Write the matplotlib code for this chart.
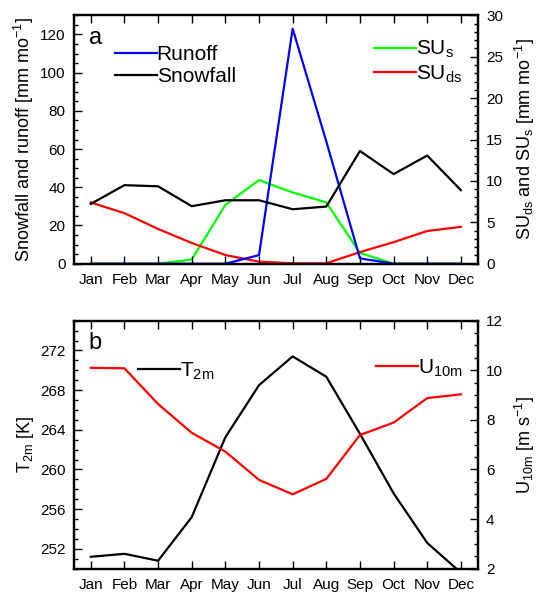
import matplotlib
matplotlib.use('Agg')
import matplotlib.pyplot as plt
from matplotlib.ticker import MultipleLocator

plt.rcParams['font.family'] = ['Liberation Sans', 'DejaVu Sans']
plt.rcParams['mathtext.default'] = 'regular'

# Monthly climatology
months = ['Jan', 'Feb', 'Mar', 'Apr', 'May', 'Jun',
          'Jul', 'Aug', 'Sep', 'Oct', 'Nov', 'Dec']
runoff = [0, 0, 0, 0, 0, 4.5, 123, 64, 2.8, 0, 0, 0]
snowfall = [31.3, 41.1, 40.5, 30.1, 33.2, 33.2, 28.5, 29.9, 59.0, 46.9, 56.6, 38.5]
su_s = [0, 0, 0, 0.5, 7.1, 10.1, 8.6, 7.4, 1.3, 0, 0, 0]
su_ds = [7.4, 6.1, 4.2, 2.5, 1.05, 0.25, 0.05, 0.05, 1.4, 2.6, 3.95, 4.45]
t2m = [251.2, 251.5, 250.8, 255.2, 263.25, 268.5, 271.4, 269.35, 263.6, 257.6, 252.6, 249.6]
u10m = [10.1, 10.08, 8.64, 7.48, 6.72, 5.58, 5.0, 5.62, 7.39, 7.89, 8.88, 9.03]

x = list(range(len(months)))
lw = 1.6
tick_fs = 11
label_fs = 13
leg_fs = 15


def style(ax, side):
    ax.tick_params(axis='both', which='both', direction='in', labelsize=tick_fs)
    ax.tick_params(axis='both', which='major', length=6, width=1)
    ax.tick_params(axis='both', which='minor', length=3, width=1)
    ax.tick_params(axis='y', which='both', left=(side == 'left'), right=(side == 'right'),
                   labelleft=(side == 'left'), labelright=(side == 'right'), pad=6)
    ax.tick_params(axis='x', which='both', top=True, bottom=True, pad=7)
    for s in ax.spines.values():
        s.set_linewidth(1.6)


fig = plt.figure(figsize=(5.38, 5.93), dpi=100)

# ---- panel a ----
ax1 = fig.add_axes([0.1375, 0.5553, 0.7504, 0.4189])
ax2 = ax1.twinx()
ax1.set_zorder(ax2.get_zorder() + 1)
ax1.patch.set_visible(False)

l_run, = ax1.plot(x, runoff, color='#0000ff', lw=lw, label='Runoff')
l_snow, = ax1.plot(x, snowfall, color='black', lw=lw, label='Snowfall')
l_sus, = ax2.plot(x, su_s, color='#00ff00', lw=lw, label='SU$_{s}$')
l_suds, = ax2.plot(x, su_ds, color='#ff0000', lw=lw, label='SU$_{ds}$')

ax1.set_xlim(-0.5, 11.5)
ax1.set_xticks(x, months)
ax1.set_ylim(0, 130)
ax1.yaxis.set_major_locator(MultipleLocator(20))
ax1.yaxis.set_minor_locator(MultipleLocator(5))
ax2.set_ylim(0, 30)
ax2.yaxis.set_major_locator(MultipleLocator(5))
ax2.yaxis.set_minor_locator(MultipleLocator(1))
style(ax1, 'left')
style(ax2, 'right')
ax1.set_ylabel('Snowfall and runoff [mm mo$^{-1}$]', fontsize=label_fs, labelpad=3)
ax2.set_ylabel('SU$_{ds}$ and SU$_{s}$ [mm mo$^{-1}$]', fontsize=label_fs, labelpad=7)
ax1.text(0.037, 0.91, 'a', transform=ax1.transAxes, fontsize=17, ha='left', va='center')

leg_kw = dict(frameon=False, fontsize=leg_fs, handlelength=2.0, handletextpad=0,
              borderpad=0, borderaxespad=0, labelspacing=0.15, loc='upper left')
ax1.add_artist(ax1.legend(handles=[l_run, l_snow], bbox_to_anchor=(0.1016, 0.88), **leg_kw))
ax1.legend(handles=[l_sus, l_suds], bbox_to_anchor=(0.743, 0.905), **leg_kw)

# ---- panel b ----
bx1 = fig.add_axes([0.1375, 0.041, 0.7504, 0.4182])
bx2 = bx1.twinx()

l_t, = bx1.plot(x, t2m, color='black', lw=lw, label='T$_{2m}$')
l_u, = bx2.plot(x, u10m, color='#ff0000', lw=lw, label='U$_{10m}$')

bx1.set_xlim(-0.5, 11.5)
bx1.set_xticks(x, months)
bx1.set_ylim(250, 275)
bx1.set_yticks([252, 256, 260, 264, 268, 272])
bx1.yaxis.set_minor_locator(MultipleLocator(1))
bx2.set_ylim(2, 12)
bx2.yaxis.set_major_locator(MultipleLocator(2))
bx2.yaxis.set_minor_locator(MultipleLocator(0.5))
style(bx1, 'left')
style(bx2, 'right')
bx1.set_ylabel('T$_{2m}$ [K]', fontsize=label_fs, labelpad=3)
bx2.set_ylabel('U$_{10m}$ [m s$^{-1}$]', fontsize=label_fs, labelpad=7)
bx1.text(0.037, 0.91, 'b', transform=bx1.transAxes, fontsize=17, ha='left', va='center')

bx2.add_artist(bx2.legend(handles=[l_t], bbox_to_anchor=(0.1585, 0.84), **leg_kw))
bx2.legend(handles=[l_u], bbox_to_anchor=(0.748, 0.852), **leg_kw)

fig.savefig('out.png', dpi=100)
